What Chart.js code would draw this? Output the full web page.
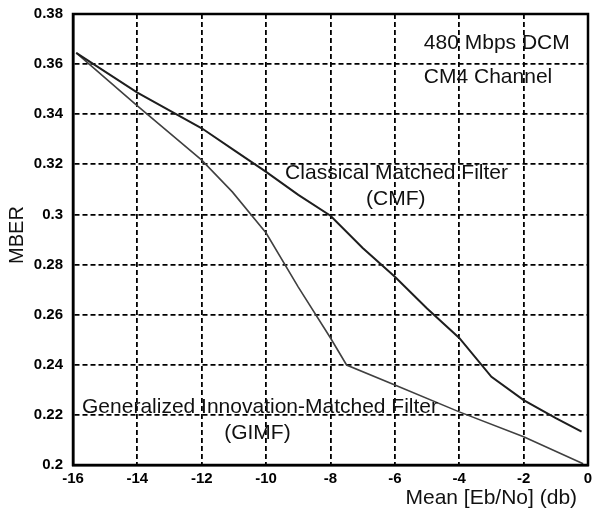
<!DOCTYPE html>
<html>
<head>
<meta charset="utf-8">
<script src="https://cdn.jsdelivr.net/npm/chart.js@4"></script>
<style>
  body { margin: 0; background: #fff; }
  #wrap { width: 595px; height: 514px; }
</style>
</head>
<body>
<div id="wrap"><canvas id="c"></canvas></div>
<script>
// values
const cmfX = [-15.9, -14, -12, -11, -10, -9, -8, -7, -6, -5, -4, -3, -2, -1, -0.2];
const cmfY = [0.3645, 0.3486, 0.3344, 0.3257, 0.317, 0.3078, 0.2995, 0.2866, 0.2751, 0.2625, 0.2507, 0.2352, 0.2259, 0.2187, 0.2133];

const gimfX = [-15.9, -14, -12, -11.05, -10, -9, -8, -7.5, -6, -4, -2, -0.15];
const gimfY = [0.3645, 0.3433, 0.3217, 0.309, 0.2926, 0.271, 0.2507, 0.2399, 0.2319, 0.2212, 0.2113, 0.2005];

const xTickLabels = ['-16', '-14', '-12', '-10', '-8', '-6', '-4', '-2', '0'];
const yTickLabels = ['0.2', '0.22', '0.24', '0.26', '0.28', '0.3', '0.32', '0.34', '0.36', '0.38'];

// text placed in data space: [text, x, y, align]
const notes = [
  ['480 Mbps DCM', -5.1, 0.3684, 'left'],
  ['CM4 Channel', -5.1, 0.3547, 'left'],
  ['Classical Matched Filter', -9.41, 0.3165, 'left'],
  ['(CMF)', -5.97, 0.3061, 'center'],
  ['Generalized Innovation-Matched Filter', -15.72, 0.2231, 'left'],
  ['(GIMF)', -10.27, 0.2127, 'center']
];

const FONT = '"Liberation Sans", Arial, sans-serif';

const toPts = (xs, ys) => xs.map((x, i) => ({ x: x, y: ys[i] }));

const notesPlugin = {
  id: 'notes',
  afterDraw(chart) {
    const ctx = chart.ctx;
    const a = chart.chartArea;
    const xs = chart.scales.x, ys = chart.scales.y;
    ctx.save();
    // frame
    ctx.strokeStyle = '#000';
    ctx.lineWidth = 2.5;
    ctx.strokeRect(a.left, a.top, a.right - a.left, a.bottom - a.top);
    // notes
    ctx.fillStyle = '#111';
    ctx.font = '21px ' + FONT;
    ctx.textBaseline = 'middle';
    notes.forEach(n => {
      ctx.textAlign = n[3];
      ctx.fillText(n[0], xs.getPixelForValue(n[1]), ys.getPixelForValue(n[2]));
    });
    // x axis title
    ctx.textAlign = 'right';
    ctx.fillText('Mean [Eb/No] (db)', xs.getPixelForValue(-0.34), chart.height - 16);
    // y axis title
    ctx.translate(17.5, ys.getPixelForValue(0.2918));
    ctx.rotate(-Math.PI / 2);
    ctx.textAlign = 'center';
    ctx.font = '20px ' + FONT;
    ctx.fillText('MBER', 0, 0);
    ctx.restore();
  }
};

new Chart(document.getElementById('c'), {
  type: 'line',
  data: {
    datasets: [
      {
        label: 'CMF',
        data: toPts(cmfX, cmfY),
        borderColor: '#1e1e1e',
        borderWidth: 2,
        pointRadius: 0,
        tension: 0
      },
      {
        label: 'GIMF',
        data: toPts(gimfX, gimfY),
        borderColor: '#404040',
        borderWidth: 1.6,
        pointRadius: 0,
        tension: 0
      }
    ]
  },
  options: {
    responsive: true,
    maintainAspectRatio: false,
    animation: false,
    layout: { autoPadding: false, padding: { top: 14, right: 7, left: 0, bottom: 0 } },
    plugins: { legend: { display: false }, tooltip: { enabled: false } },
    scales: {
      x: {
        type: 'linear',
        min: -16,
        max: 0,
        afterFit(s) { s.height = 49; },
        // label gap comes from invisible tick marks, tick padding would push the plot area in
        grid: { color: '#000', lineWidth: 1.8, tickLength: 5, tickColor: 'transparent' },
        border: { color: '#000', width: 2.5, dash: [5, 3] },
        ticks: {
          stepSize: 2,
          padding: 0,
          color: '#000',
          font: { family: FONT, size: 15, weight: 'bold' },
          callback: (v, i) => xTickLabels[i]
        }
      },
      y: {
        min: 0.2,
        max: 0.38,
        afterFit(s) { s.width = 73; },
        grid: { color: '#000', lineWidth: 1.8, tickLength: 10, tickColor: 'transparent' },
        border: { color: '#000', width: 2.5, dash: [5, 3] },
        ticks: {
          stepSize: 0.02,
          padding: 0,
          color: '#000',
          font: { family: FONT, size: 15, weight: 'bold' },
          callback: (v, i) => yTickLabels[i]
        }
      }
    }
  },
  plugins: [notesPlugin]
});
</script>
</body>
</html>
